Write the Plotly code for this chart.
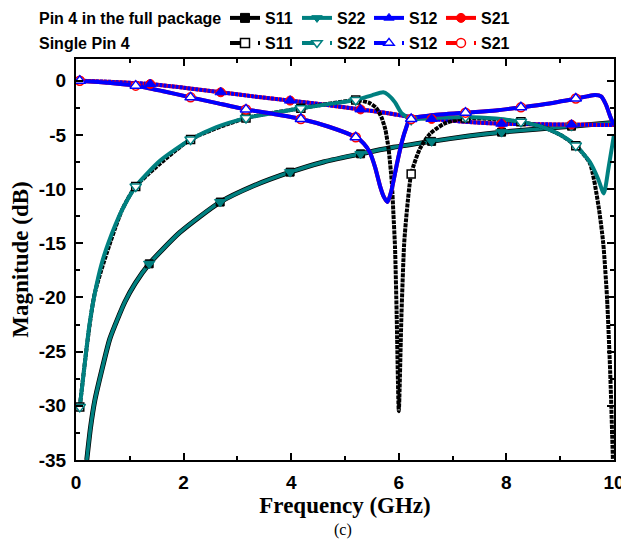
import plotly.graph_objects as go

# ---------------- data ----------------
# Pin 4 in the full package
full_s11_x = [0.2, 0.27, 0.35, 0.5, 0.63, 0.91, 1.1, 1.36, 1.93, 2.68, 3.3, 3.98, 4.6, 5.29, 5.9, 6.61, 7.3, 7.91, 8.6, 9.21, 10.0]
full_s11_y = [-35, -32.0, -29.5, -26.3, -23.8, -20.4, -18.7, -16.9, -14.0, -11.2, -9.7, -8.44, -7.5, -6.75, -6.15, -5.6, -5.1, -4.75, -4.45, -4.2, -3.85]
full_s22_x = [0.2, 0.27, 0.35, 0.5, 0.63, 0.91, 1.1, 1.36, 1.93, 2.68, 3.3, 3.98, 4.6, 5.29, 5.9, 6.61, 7.3, 7.91, 8.6, 9.21, 10.0]
full_s22_y = [-35, -32.0, -29.5, -26.3, -23.8, -20.4, -18.7, -16.9, -14.0, -11.2, -9.7, -8.44, -7.5, -6.75, -6.15, -5.6, -5.1, -4.75, -4.45, -4.2, -3.85]
full_s12_x = [0.07, 0.7, 1.38, 2.0, 2.69, 3.3, 3.98, 4.6, 5.29, 5.8, 6.21, 6.61, 7.3, 7.91, 8.6, 9.21, 10.0]
full_s12_y = [0.0, -0.12, -0.31, -0.65, -1.07, -1.45, -1.84, -2.2, -2.65, -3.0, -3.35, -3.53, -3.82, -3.97, -4.02, -4.05, -4.1]
full_s21_x = full_s12_x
full_s21_y = [0.0, -0.12, -0.31, -0.65, -1.07, -1.45, -1.84, -2.2, -2.65, -3.0, -3.35, -3.53, -3.82, -3.97, -4.02, -4.05, -4.1]

full_mk_x = [1.36, 2.68, 3.98, 5.29, 6.61, 7.91, 9.21]
full_s11_mk = [-16.9, -11.2, -8.44, -6.75, -5.6, -4.75, -4.2]
full_s22_mk = [-16.9, -11.2, -8.44, -6.75, -5.6, -4.75, -4.2]
full_s12_mk_x = [0.07, 1.38, 2.69, 3.98, 5.29, 6.61, 7.91, 9.21]
full_s12_mk = [0.0, -0.31, -1.07, -1.84, -2.65, -3.53, -3.97, -4.05]
full_s21_mk = [0.0, -0.31, -1.07, -1.84, -2.65, -3.53, -3.97, -4.05]

# Single Pin 4
single_s22_x = [0.07, 0.12, 0.17, 0.25, 0.35, 0.47, 0.6, 0.85, 1.11, 1.56, 2.13, 2.6, 3.16, 3.7, 4.18, 4.7, 5.2,
                5.5, 5.71, 5.8, 5.93, 6.05, 6.23, 6.58, 7.24, 7.8, 8.27, 8.69, 9.0, 9.29, 9.55, 9.7, 9.81, 9.9, 10.0]
single_s22_y = [-30.1, -28.0, -25.8, -22.5, -19.6, -17.0, -15.0, -12.0, -9.76, -7.4, -5.43, -4.3, -3.45, -2.95, -2.55, -2.15, -1.78,
                -1.35, -1.07, -1.3, -2.0, -3.0, -3.55, -3.45, -3.35, -3.5, -3.8, -4.3, -5.0, -5.99, -7.5, -9.0, -10.4, -8.0, -5.0]
single_s11_x = [0.07, 0.35, 0.85, 1.11, 2.13, 3.16, 4.18, 5.2, 5.3, 5.45, 5.58, 5.68, 5.75, 5.81, 5.87, 5.9, 5.93, 5.96,
                6.0, 6.05, 6.1, 6.15, 6.23, 6.39, 6.58, 6.83, 7.08, 7.24, 7.8, 8.27, 8.69, 9.0, 9.29, 9.55, 9.71, 9.8, 9.87, 9.93, 9.98]
single_s11_y = [-30.1, -19.6, -12.0, -9.76, -5.43, -3.45, -2.55, -1.78, -1.85, -2.05, -2.5, -3.4, -4.5, -6.3, -9.4, -12.3, -15.4, -21.5,
                -30.5, -21.5, -15.0, -12.0, -8.6, -6.3, -4.9, -4.0, -3.6, -3.45, -3.55, -3.8, -4.3, -5.0, -6.0, -7.6, -11.5, -15.0, -20.0, -27.0, -35.0]
single_s12_x = [0.07, 0.6, 1.11, 1.6, 2.13, 2.6, 3.16, 3.7, 4.18, 4.7, 5.2, 5.35, 5.46, 5.56, 5.65, 5.72, 5.79, 5.86, 5.96,
                6.05, 6.12, 6.21, 6.58, 7.24, 7.8, 8.27, 8.8, 9.29, 9.5, 9.65, 9.76, 9.85, 9.93, 10.0]
single_s12_y = [0.0, -0.2, -0.46, -0.95, -1.54, -2.05, -2.65, -3.1, -3.53, -4.25, -5.22, -5.8, -6.6, -8.0, -9.7, -10.7, -11.2, -10.2, -7.8,
                -5.8, -4.6, -3.53, -3.22, -2.95, -2.75, -2.46, -2.1, -1.65, -1.45, -1.32, -1.45, -2.2, -3.3, -4.1]
single_s21_x = single_s12_x
single_s21_y = [0.0, -0.2, -0.46, -0.95, -1.54, -2.05, -2.65, -3.1, -3.53, -4.25, -5.22, -5.8, -6.6, -8.0, -9.7, -10.7, -11.2, -10.2, -7.8,
                -5.8, -4.6, -3.53, -3.22, -2.95, -2.75, -2.46, -2.1, -1.65, -1.45, -1.32, -1.45, -2.2, -3.3, -4.1]

single_mk_x = [0.07, 1.11, 2.13, 3.16, 4.18, 5.2, 6.23, 7.24, 8.27, 9.29]
single_s11_mk = [-30.1, -9.76, -5.43, -3.45, -2.55, -1.78, -8.6, -3.45, -3.8, -6.0]
single_s22_mk = [-30.1, -9.76, -5.43, -3.45, -2.55, -1.78, -3.6, -3.35, -3.8, -5.99]
single_s12_mk = [0.0, -0.46, -1.54, -2.65, -3.53, -5.22, -3.53, -2.95, -2.46, -1.65]
single_s21_mk = [0.0, -0.46, -1.54, -2.65, -3.53, -5.22, -3.53, -2.95, -2.46, -1.65]

x_tickvals = [0, 2, 4, 6, 8, 10]
x_ticktext = ["0", "2", "4", "6", "8", "10"]
y_tickvals = [0, -5, -10, -15, -20, -25, -30, -35]
y_ticktext = ["0", "-5", "-10", "-15", "-20", "-25", "-30", "-35"]

BLACK = "#000000"
TEAL = "#008080"
BLUE = "#0000FF"
RED = "#FF0000"
LW = 4

fig = go.Figure()

def line(x, y, color, width=LW, dash="solid"):
    fig.add_trace(go.Scatter(x=x, y=y, mode="lines", showlegend=False, hoverinfo="skip",
                             line=dict(color=color, width=width, dash=dash, shape="spline", smoothing=0.6)))

def marks(x, y, symbol, size, fill, edge, ew=1.5):
    fig.add_trace(go.Scatter(x=x, y=y, mode="markers", showlegend=False, hoverinfo="skip",
                             marker=dict(symbol=symbol, size=size, color=fill, line=dict(color=edge, width=ew))))

# lines
line(full_s11_x, full_s11_y, BLACK, 5)
line(full_s22_x, full_s22_y, TEAL, 3.5)
line(full_s21_x, full_s21_y, RED, LW)
line(full_s12_x, full_s12_y, BLUE, LW, "3px,1px")
line(single_s11_x, single_s11_y, BLACK, LW, "4px,1px")
line(single_s22_x, single_s22_y, TEAL, LW)
line(single_s21_x, single_s21_y, RED, LW)
line(single_s12_x, single_s12_y, BLUE, LW)

# markers
marks(full_mk_x, full_s11_mk, "square", 8, BLACK, BLACK, 1)
marks(full_mk_x, full_s22_mk, "triangle-down", 10, TEAL, TEAL, 1)
marks(full_s12_mk_x, full_s21_mk, "circle", 9, RED, RED, 1)
marks(full_s12_mk_x, full_s12_mk, "triangle-up", 10, BLUE, BLUE, 1)
marks(single_mk_x, single_s11_mk, "square", 8, "white", BLACK)
marks(single_mk_x, single_s22_mk, "triangle-down", 10, "white", TEAL)
marks(single_mk_x, single_s21_mk, "circle", 9, "white", RED)
marks(single_mk_x, single_s12_mk, "triangle-up", 10, "white", BLUE)

# legend-only entries
leg_names = ["S11", "S22", "S12", "S21"]
leg_colors = [BLACK, TEAL, BLUE, RED]
leg_symbols = ["square", "triangle-down", "triangle-up", "circle"]
for n, c, s in zip(leg_names, leg_colors, leg_symbols):
    fig.add_trace(go.Scatter(x=[None], y=[None], mode="lines+markers", name=n, legend="legend",
                             line=dict(color=c, width=LW),
                             marker=dict(symbol=s, size=9, color=c, line=dict(color=c, width=1))))
for n, c, s in zip(leg_names, leg_colors, leg_symbols):
    fig.add_trace(go.Scatter(x=[None], y=[None], mode="lines+markers", name=n, legend="legend2",
                             line=dict(color=c, width=LW, dash="12px,16px,2px,10px"),
                             marker=dict(symbol=s, size=9, color="white", line=dict(color=c, width=1.5))))

# The page body adds an 8px offset; the figure is sized so the plot lands where the reference has it.
OFF = 8
W, H = 629 - OFF, 546 - OFF
PL, PT, PR, PB = 76 - OFF, 59 - OFF, 15, 86
PW, PH = W - PL - PR, H - PT - PB

def px_x(px):
    return (px - OFF - PL) / PW

def px_y(py):
    return 1 - (py - OFF - PT) / PH

LEGFONT = dict(family="Liberation Sans, Arial", size=16, color="black", weight="bold")
legcommon = dict(orientation="h", xanchor="left", yanchor="middle", font=LEGFONT,
                 bgcolor="rgba(0,0,0,0)", borderwidth=0, entrywidth=27, entrywidthmode="pixels",
                 itemwidth=30, tracegroupgap=0)

axis_common = dict(showline=True, linecolor="black", linewidth=2, mirror="allticks",
                   ticks="inside", ticklen=7, tickwidth=2, tickcolor="black",
                   showgrid=False, zeroline=False, ticklabelstandoff=4,
                   tickfont=dict(family="Liberation Sans, Arial", size=19, color="black", weight="bold"))

TITLEFONT = dict(family="Liberation Serif, Times New Roman", size=23, color="black", weight="bold")

fig.update_layout(
    width=W, height=H,
    margin=dict(l=PL, r=PR, t=PT, b=PB, autoexpand=False),
    paper_bgcolor="white", plot_bgcolor="white",
    legend=dict(x=px_x(225), y=px_y(18), **legcommon),
    legend2=dict(x=px_x(225), y=px_y(43), **legcommon),
    xaxis=dict(range=[0, 10], tickvals=x_tickvals, ticktext=x_ticktext, automargin=False,
               minor=dict(dtick=1, tick0=0, ticks="inside", ticklen=4, tickwidth=1.5, tickcolor="black"),
               title=dict(text="Frequency (GHz)", standoff=5, font=TITLEFONT),
               **axis_common),
    yaxis=dict(range=[-35, 2], tickvals=y_tickvals, ticktext=y_ticktext, automargin=False,
               minor=dict(dtick=2.5, tick0=0, ticks="inside", ticklen=4, tickwidth=1.5, tickcolor="black"),
               title=dict(text="Magnitude (dB)", standoff=6, font=TITLEFONT),
               **axis_common),
    annotations=[
        dict(text="Pin 4 in the full package", x=px_x(37), y=px_y(18), xref="paper", yref="paper",
             showarrow=False, xanchor="left", yanchor="middle", font=LEGFONT),
        dict(text="Single Pin 4", x=px_x(37), y=px_y(43), xref="paper", yref="paper",
             showarrow=False, xanchor="left", yanchor="middle", font=LEGFONT),
        dict(text="(c)", x=px_x(343), y=px_y(530), xref="paper", yref="paper", showarrow=False,
             xanchor="center", yanchor="middle",
             font=dict(family="Liberation Serif, Times New Roman", size=16, color="black")),
    ],
)

fig.write_html("out.html")
